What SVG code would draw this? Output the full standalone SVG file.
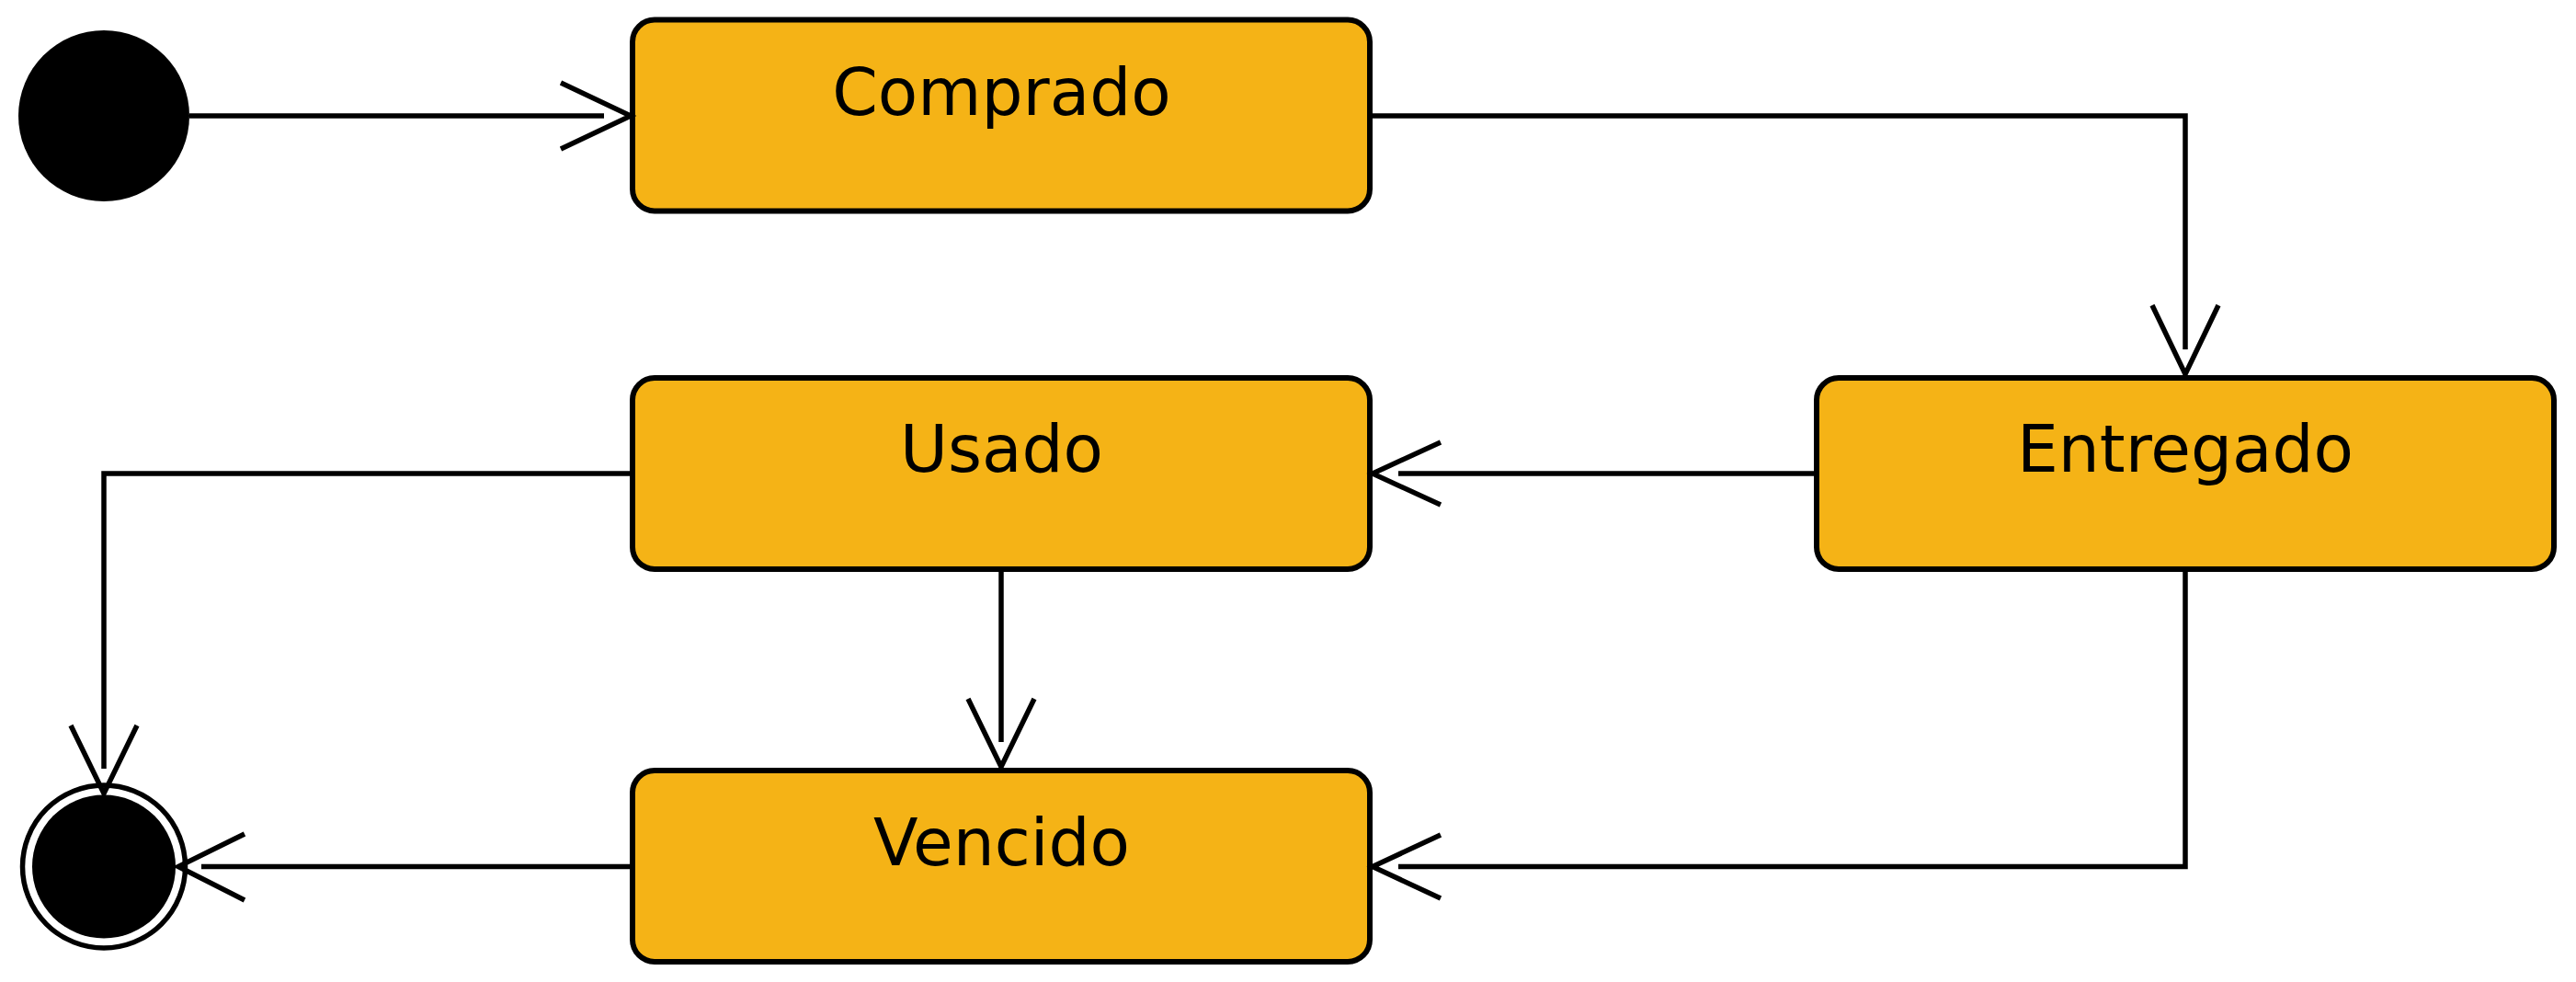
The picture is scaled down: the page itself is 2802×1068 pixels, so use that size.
<svg xmlns="http://www.w3.org/2000/svg" width="2802" height="1068" viewBox="0 0 2802 1068">
<style>
.state{fill:#F5B316;stroke:#000;stroke-width:6}
.lbl{font-family:"DejaVu Sans",sans-serif;font-size:71px;fill:#000;text-anchor:middle}
.edge{fill:none;stroke:#000;stroke-width:5.5}
</style>
<rect width="2802" height="1068" fill="#fff"/>
<g id="initial"><circle cx="113" cy="126" r="93" fill="#000"/></g>
<g id="comprado"><rect class="state" x="688" y="21.5" width="802" height="208" rx="24"/><text class="lbl" x="1089.5" y="125">Comprado</text></g>
<g id="entregado"><rect class="state" x="1976" y="411" width="802" height="208" rx="24"/><text class="lbl" x="2377" y="512.5">Entregado</text></g>
<g id="usado"><rect class="state" x="688" y="411" width="802" height="208" rx="24"/><text class="lbl" x="1089.5" y="512.5">Usado</text></g>
<g id="vencido"><rect class="state" x="688" y="838" width="802" height="208" rx="24"/><text class="lbl" x="1089.5" y="941">Vencido</text></g>
<g id="final"><circle cx="113" cy="942.5" r="88.5" fill="#fff" stroke="#000" stroke-width="5.5"/><circle cx="113" cy="942.5" r="78" fill="#000"/></g>
<g id="connectors">
<path class="edge" d="M206 126H657"/><path class="edge" d="M610 90L686 126L610 162"/>
<path class="edge" d="M1490 126H2377V380"/><path class="edge" d="M2341 332L2377 407L2413 332"/>
<path class="edge" d="M1976 515H1521"/><path class="edge" d="M1567 481L1493 515L1567 549"/>
<path class="edge" d="M2377 619V942.5H1521"/><path class="edge" d="M1567 908L1493 942.5L1567 977"/>
<path class="edge" d="M1089 619V807"/><path class="edge" d="M1053 760L1089 834L1125 760"/>
<path class="edge" d="M688 515H113V836"/><path class="edge" d="M77 789L113 863L149 789"/>
<path class="edge" d="M688 942.5H219"/><path class="edge" d="M266 907L194 942.5L266 979"/>
</g>
</svg>
